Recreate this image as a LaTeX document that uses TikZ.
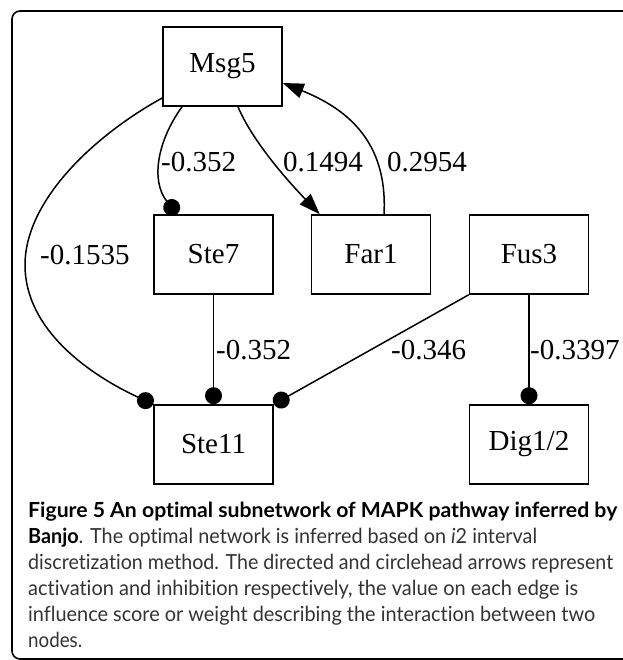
\documentclass[tikz,border=0pt]{standalone}
\usepackage{fontspec}
\setmainfont{Liberation Serif}
\newfontfamily\capfont[Ligatures=NoCommon]{Lato}
\usetikzlibrary{arrows.meta,calc}
\newsavebox\capbox
\newcommand\fitto[2]{\sbox\capbox{#2}\pgfmathsetmacro\capsc{#1/\wd\capbox}\scalebox{\capsc}[1]{\usebox\capbox}}
\begin{document}
\begin{tikzpicture}[x=1pt,y=-1pt,
  gene/.style={draw,line width=1.6pt,minimum width=119pt,minimum height=79pt,inner sep=0pt,font=\fontsize{29}{29}\selectfont},
  edge/.style={line width=1.5pt},
  act/.style={edge,-{Triangle[length=21pt,width=15pt]}},
  inh/.style={edge,-{Circle[length=17pt]}},
  wlab/.style={anchor=west,inner sep=0pt,font=\fontsize{29}{29}\selectfont},
  capline/.style={anchor=base west,inner sep=0pt,font=\capfont\fontsize{20.8}{20.8}\selectfont,text=black!80}]
\useasboundingbox (0,0) rectangle (622,660);
\draw[line width=1.6pt,rounded corners=8pt] (12,11) rectangle (660,659);

\node[gene] (msg5) at (222.5,66.5) {Msg5};
\node[gene] (ste7) at (213.5,254.5) {Ste7};
\node[gene] (far1) at (371,254.5) {Far1};
\node[gene] (fus3) at (529,254.5) {Fus3};
\node[gene] (ste11) at (213.5,444.5) {Ste11};
\node[gene] (dig) at (529,444.5) {Dig1/2};

\draw[inh] ($(msg5.south)+(-40.5,0)$) .. controls (158,140) and (150,180) .. ($(ste7.north)+(-36.5,0)$);
\draw[act] ($(msg5.south)+(15.5,0)$) .. controls (252,140) and (285,178) .. ($(far1.north west)+(9,0)$);
\draw[act] ($(far1.north)+(13,0)$) .. controls (388,140) and (345,108) .. ($(msg5.east)+(0,16.5)$);
\draw[inh] ($(msg5.west)+(0,31.5)$) .. controls (95,135) and (25,200) .. (25,265) .. controls (25,330) and (90,375) .. (ste11.north west);
\draw[inh] (ste7.south) -- (ste11.north);
\draw[inh] (fus3.south west) -- (ste11.north east);
\draw[inh] (fus3.south) -- (dig.north);

\node[wlab] (w1) at (161,162) {-0.352};
\node[wlab] (w2) at (283,162) {0.1494};
\node[wlab] (w3) at (387,162) {0.2954};
\node[wlab] (w4) at (40,255) {-0.1535};
\node[wlab] (w5) at (216,350) {-0.352};
\node[wlab] (w6) at (391,350) {-0.346};
\node[wlab] (w7) at (530,350) {-0.3397};

\node[capline] (c1) at (28,517) {\fitto{589}{\bfseries\color{black}Figure 5 An optimal subnetwork of MAPK pathway inferred by}};
\node[capline] (c2) at (28,543) {\fitto{509}{{\bfseries\color{black}Banjo}. The optimal network is inferred based on \textit{i}2 interval}};
\node[capline] (c3) at (28,569) {\fitto{585}{discretization method. The directed and circlehead arrows represent}};
\node[capline] (c4) at (28,595) {\fitto{550}{activation and inhibition respectively, the value on each edge is}};
\node[capline] (c5) at (28,621) {\fitto{567}{influence score or weight describing the interaction between two}};
\node[capline] (c6) at (28,647) {\fitto{54}{nodes.}};
\end{tikzpicture}
\end{document}
